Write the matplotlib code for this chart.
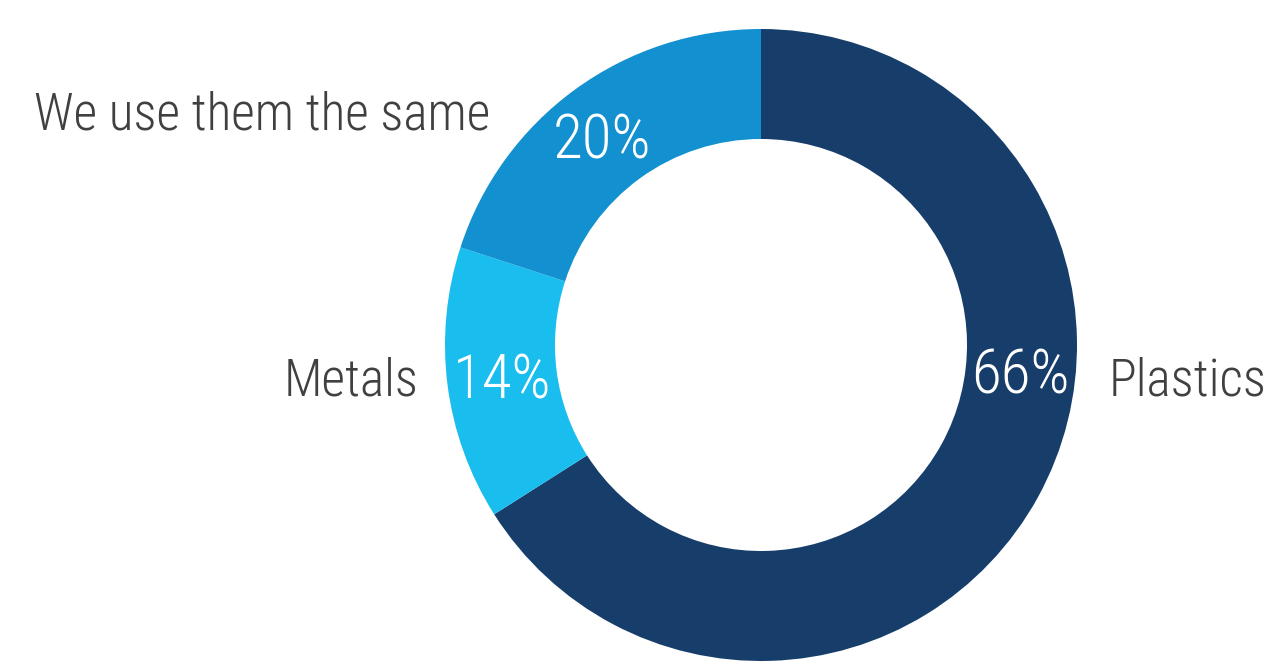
import numpy as np
import matplotlib
matplotlib.use("Agg")
import matplotlib.pyplot as plt

plt.rcParams["font.family"] = ["Roboto Condensed", "DejaVu Sans"]

categories = ["Plastics", "Metals", "We use them the same"]
shares = [66, 14, 20]
colors = ["#173e6b", "#19bdee", "#1390d0"]

W, H = 1281, 664
fig = plt.figure(figsize=(W / 100, H / 100), dpi=100)
ax = fig.add_axes([0, 0, 1, 1])

cx, cy = 761, 319
r_out, r_in = 316, 206

wedges, _ = ax.pie(shares, colors=colors, startangle=90, counterclock=False,
                   center=(cx, cy), radius=r_out,
                   wedgeprops=dict(width=r_out - r_in, linewidth=0))
ax.set_xlim(0, W)
ax.set_ylim(0, H)
ax.set_aspect("equal")
ax.axis("off")

# percentages sit on the middle of the ring
r_mid = (r_out + r_in) / 2
label_angle = {"Plastics": -6, "We use them the same": 127.5}
for w, cat, v in zip(wedges, categories, shares):
    ang = label_angle.get(cat, (w.theta1 + w.theta2) / 2)
    x = cx + r_mid * np.cos(np.radians(ang))
    y = cy + r_mid * np.sin(np.radians(ang)) - 4
    ax.text(x, y, f"{v}%", color="white", fontsize=44, fontweight="light",
            ha="center", va="center")

txt = dict(color="#404040", fontsize=37, fontweight="light", va="center")
ax.text(1109, 282, "Plastics", ha="left", **txt)
ax.text(419, 282, "Metals", ha="right", **txt)
ax.text(490, 548, "We use them the same", ha="right", **txt)

fig.savefig("out.png", dpi=100)
